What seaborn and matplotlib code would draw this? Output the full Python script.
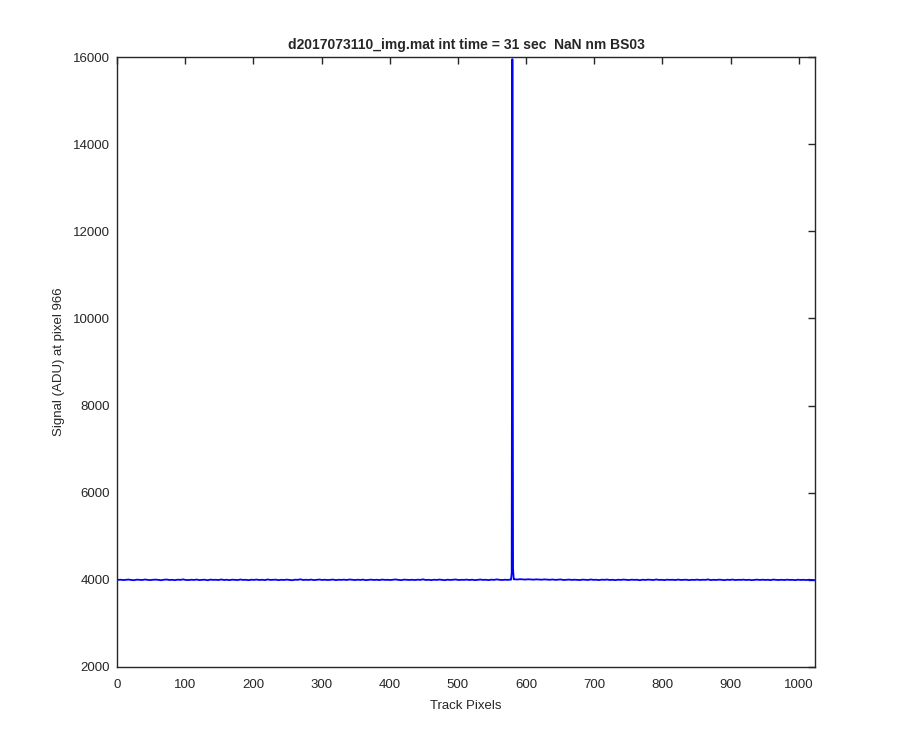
import pandas as pd
import matplotlib
matplotlib.use('Agg')
import matplotlib.pyplot as plt
import seaborn as sns

# Sinal ao longo da linha de pixels (amostrado a cada 4 pixels, pico em resolucao total)
left_start = 1
left_values = [
    3998, 4003, 3995, 4001, 4006, 3997, 3992, 4004, 4000, 3996,
    4008, 3999, 3994, 4002, 4005, 3998, 3991, 4003, 4007, 3996,
    4001, 3993, 4004, 3999, 4010, 3997, 3995, 4002, 3998, 4006,
    3994, 4000, 4003, 3990, 4005, 3999, 4001, 3996, 4008, 3997,
    4002, 3993, 4004, 4000, 3995, 4007, 3998, 4001, 3992, 4003,
    3999, 4006, 3996, 4002, 3994, 4009, 3998, 4000, 4004, 3993,
    4001, 3997, 4005, 3999, 3991, 4003, 4000, 4012, 3996, 4002,
    3998, 4005, 3994, 4001, 4007, 3997, 4003, 3995, 4000, 4006,
    3993, 4002, 3999, 4004, 3996, 4008, 4001, 3995, 4003, 3998,
    4005, 3992, 4000, 4004, 3997, 4002, 3994, 4006, 3999, 4001,
    3996, 4003, 4009, 3998, 3993, 4005, 4000, 3997, 4002, 3995,
    4004, 3999, 4011, 3996, 4001, 3994, 4003, 3998, 4006, 4000,
    3992, 4004, 3997, 4002, 4008, 3995, 4001, 3999, 4005, 3996,
    4003, 3993, 4000, 4007, 3998, 4002, 3994, 4004, 3999, 4010,
    4001, 3996, 4003, 3998, 4005,
]

spike_pixels = [578, 579, 580, 581, 582]
spike_values = [4002, 4150, 15950, 4250, 4012]

right_start = 583
right_values = [
    4012, 4008, 4015, 4010, 4006, 4013, 4009, 4004, 4011, 4007,
    4003, 4010, 4005, 4001, 4008, 3999, 4004, 4009, 3996, 4002,
    4006, 3998, 4003, 4000, 3995, 4005, 4001, 3997, 4008, 3999,
    4002, 3994, 4004, 4000, 4007, 3996, 4001, 3993, 4003, 3998,
    4006, 4000, 3995, 4004, 3999, 4002, 3991, 4003, 3997, 4005,
    4000, 3996, 4008, 3998, 4001, 3994, 4004, 3999, 4002, 3995,
    4006, 3997, 4000, 4003, 3993, 4001, 3998, 4005, 3996, 4002,
    3999, 4009, 3994, 4001, 3997, 4004, 4000, 3992, 4003, 3998,
    4006, 3995, 4001, 3999, 4004, 3996, 4002, 3993, 4000, 4005,
    3997, 4003, 3998, 4001, 3994, 4006, 3999, 3996, 4002, 3995,
    4004, 3998, 4000, 3993, 4003, 3997, 4001, 3995, 4002, 3998,
    3994,
]

x_ticks = [0, 100, 200, 300, 400, 500, 600, 700, 800, 900, 1000]
y_ticks = [2000, 4000, 6000, 8000, 10000, 12000, 14000, 16000]

left_pixels = list(range(left_start, left_start + 4 * len(left_values), 4))
right_pixels = list(range(right_start, right_start + 4 * len(right_values), 4))

data = pd.DataFrame({
    'pixel': left_pixels + spike_pixels + right_pixels,
    'signal': left_values + spike_values + right_values,
})

sns.set_style('white')
plt.rcParams['font.family'] = ['Liberation Sans', 'DejaVu Sans']

fig = plt.figure(figsize=(9, 7.5), dpi=100)
ax = fig.add_axes([0.13, 0.1107, 0.7756, 0.8133])

sns.lineplot(data=data, x='pixel', y='signal', color='#0000ff', linewidth=1.3,
             estimator=None, ax=ax)

ax.set_xlim(0, 1024)
ax.set_ylim(2000, 16000)
ax.set_xticks(x_ticks)
ax.set_yticks(y_ticks)
ax.tick_params(direction='in', length=5, width=1.0, top=True, right=True,
               labelsize=9.5, colors='#262626')
ax.tick_params(axis='x', pad=9)
ax.tick_params(axis='y', pad=5)
for s in ax.spines.values():
    s.set_color('#262626')
    s.set_linewidth(1.0)

ax.set_xlabel('Track Pixels', fontsize=9.5, color='#262626', labelpad=6)
ax.set_ylabel('Signal (ADU) at pixel 966', fontsize=9.5, color='#262626', labelpad=6)
ax.set_title('d2017073110_img.mat int time = 31 sec  NaN nm BS03',
             fontsize=10, fontweight='bold', pad=6)

fig.savefig('out.png', dpi=100, facecolor='white')
